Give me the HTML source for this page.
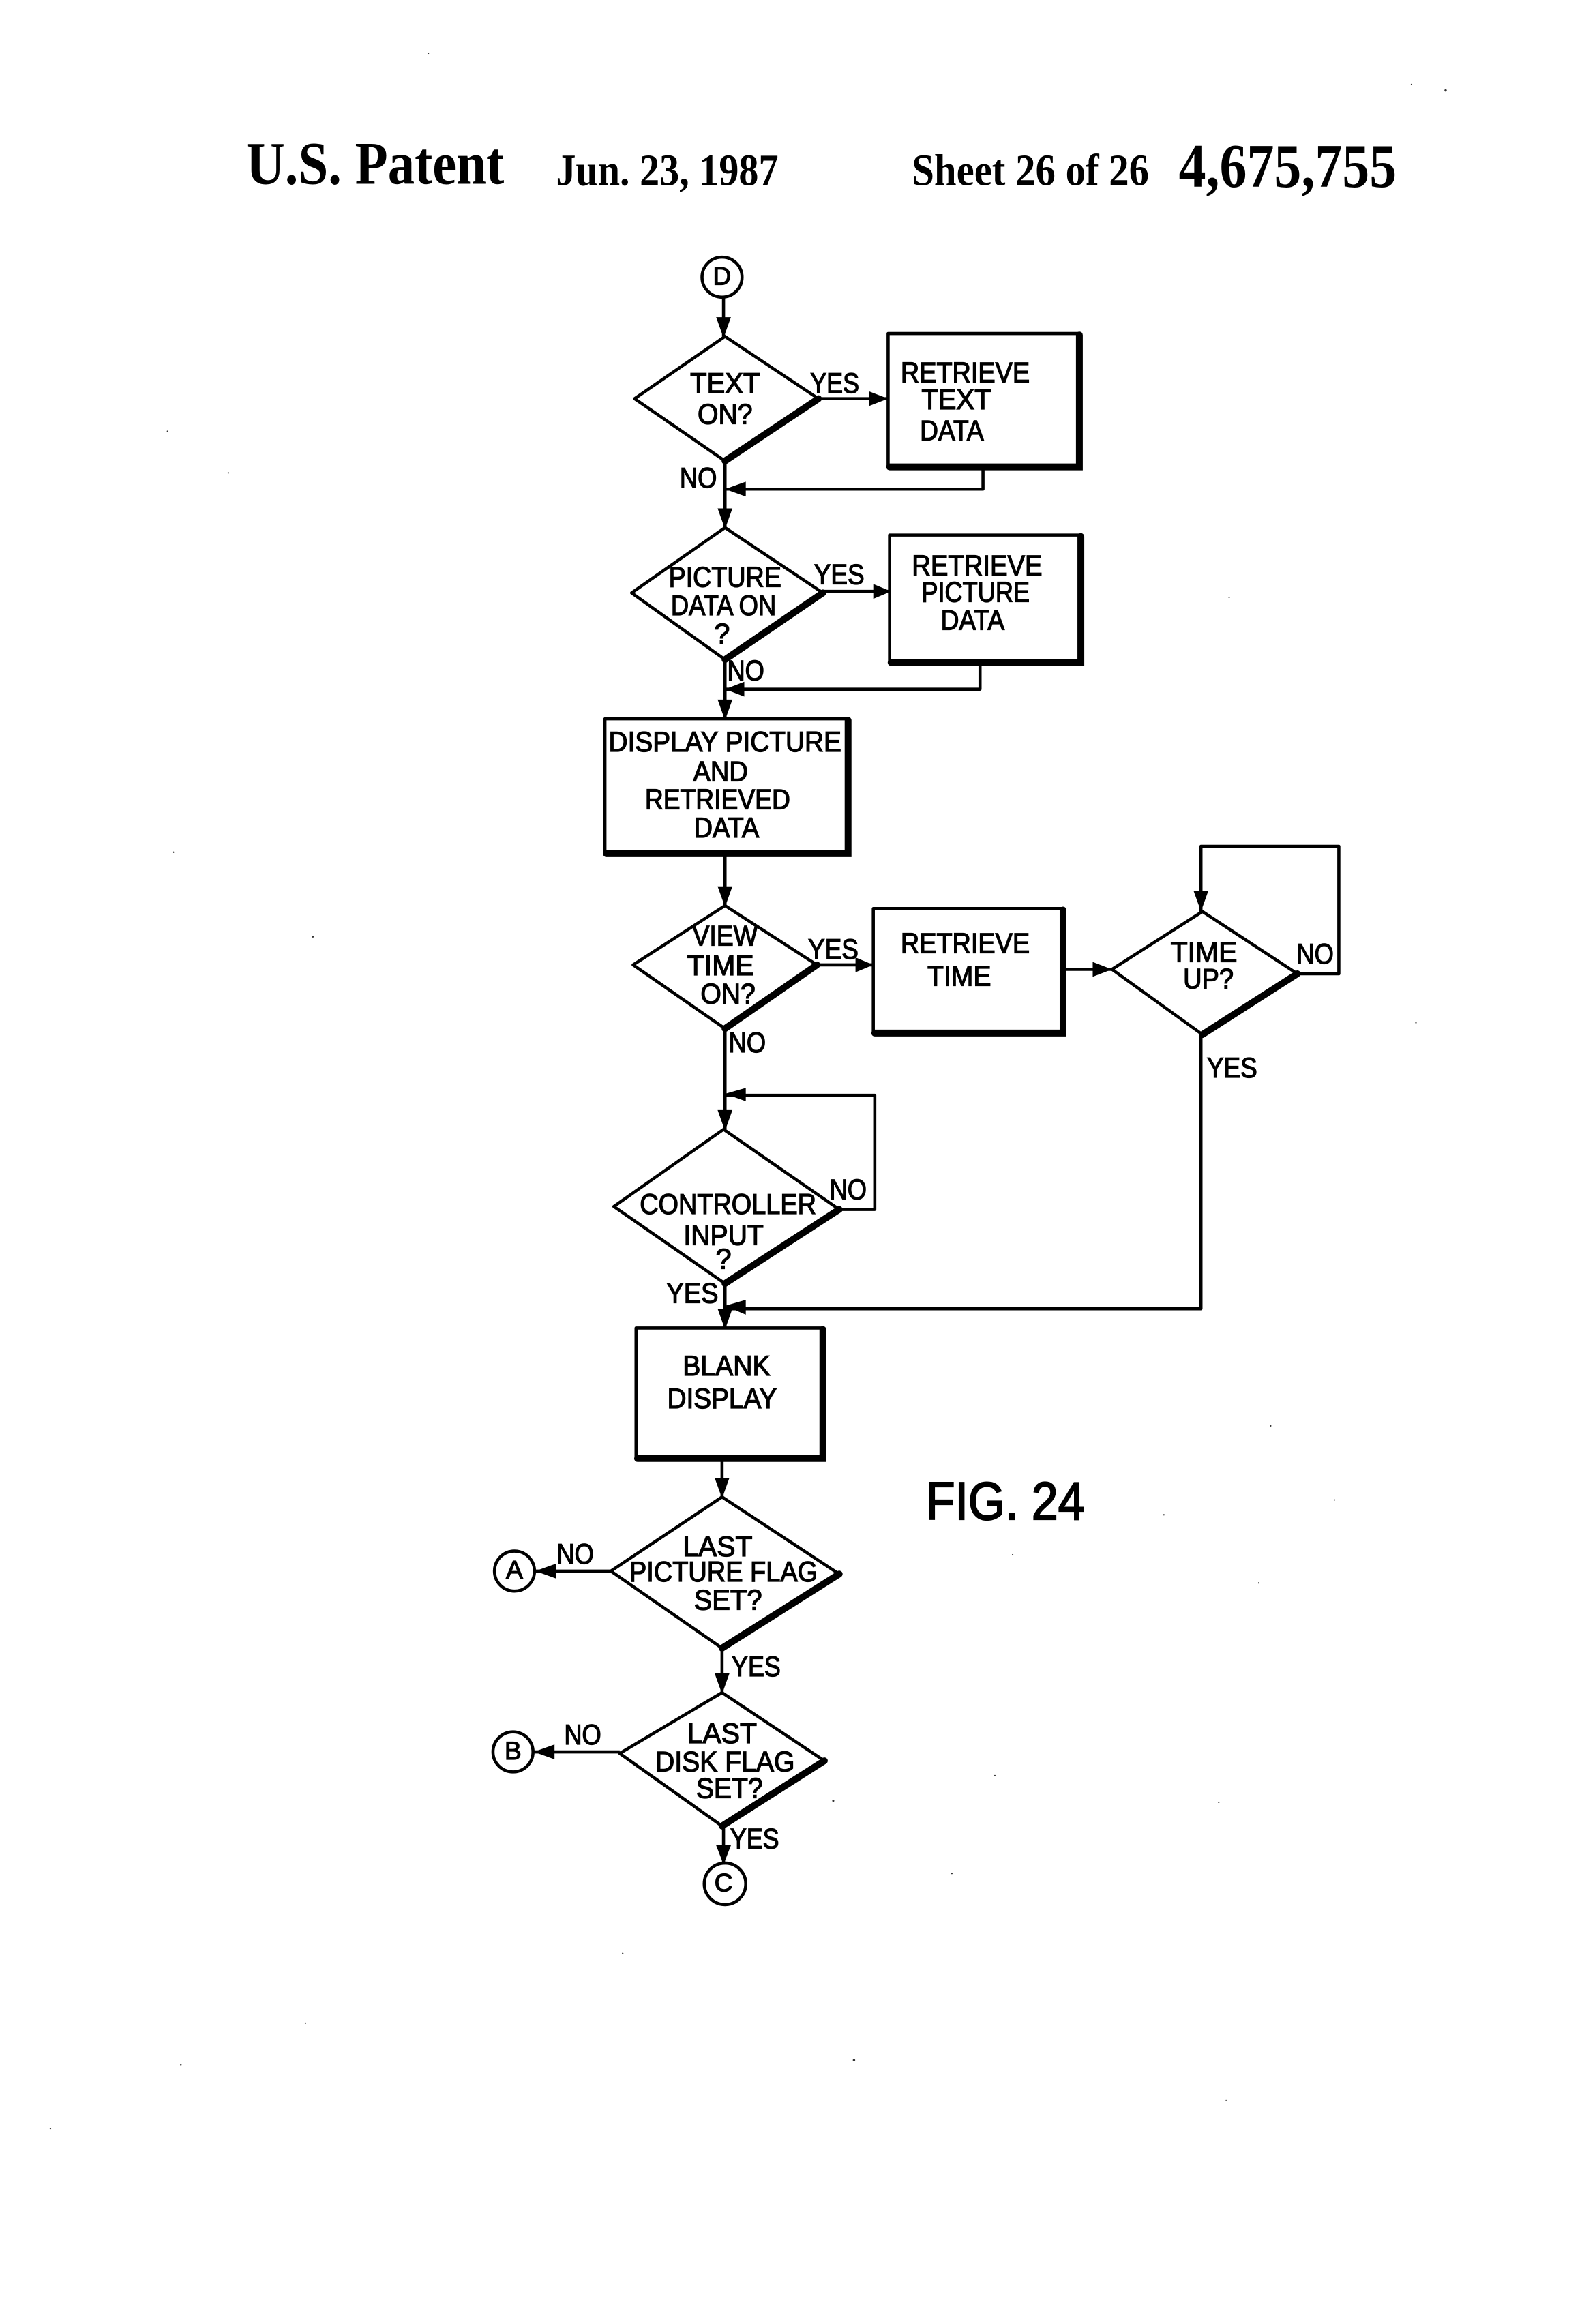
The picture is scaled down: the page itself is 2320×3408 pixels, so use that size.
<!DOCTYPE html>
<html>
<head>
<meta charset="utf-8">
<style>
html,body{margin:0;padding:0;background:#fff;width:2320px;height:3408px;overflow:hidden}
svg{display:block}
.l{fill:none;stroke:#000;stroke-width:2.1;stroke-linejoin:round}
.t{fill:none;stroke:#000;stroke-width:4.6;stroke-linecap:round}
.s{font-family:"Liberation Sans",sans-serif;font-size:19px;text-anchor:middle;fill:#000;stroke:#000;stroke-width:.6;transform:translateY(-1px)}
.h{font-family:"Liberation Serif",serif;font-weight:bold;fill:#000}
</style>
</head>
<body>
<svg xmlns="http://www.w3.org/2000/svg" width="2320" height="3408" viewBox="0 0 1067 1568" preserveAspectRatio="none">
<rect x="0" y="0" width="1067" height="1568" fill="#fff"/>

<!-- header -->
<text class="h" x="166" y="124" font-size="41" textLength="174" lengthAdjust="spacingAndGlyphs">U.S. Patent</text>
<text class="h" x="375" y="125" font-size="30" textLength="150" lengthAdjust="spacingAndGlyphs">Jun. 23, 1987</text>
<text class="h" x="615" y="125" font-size="30" textLength="160" lengthAdjust="spacingAndGlyphs">Sheet 26 of 26</text>
<text class="h" x="795" y="126" font-size="42" textLength="147" lengthAdjust="spacingAndGlyphs">4,675,755</text>

<!-- circle D -->
<circle class="l" cx="487" cy="187" r="13.5"/>
<text class="s" x="487" y="193" style="font-size:17px">D</text>
<path class="l" d="M488 201V227"/>
<polygon points="483,214 493,214 488,228"/>

<!-- diamond 1 -->
<path class="l" d="M552 269L489 227L428 269L489 311"/>
<path class="t" d="M489 311L552 269"/>
<text class="s" x="489" y="266" textLength="47" lengthAdjust="spacingAndGlyphs">TEXT</text>
<text class="s" x="489" y="287" textLength="37" lengthAdjust="spacingAndGlyphs">ON?</text>
<text class="s" x="563" y="266" textLength="33" lengthAdjust="spacingAndGlyphs">YES</text>
<path class="l" d="M552 269H599"/>
<polygon points="586,264 586,274 599,269"/>
<path class="l" d="M599 225H728V315H599Z"/>
<path class="t" d="M728 226V315H600"/>
<text class="s" x="651" y="259" textLength="87" lengthAdjust="spacingAndGlyphs">RETRIEVE</text>
<text class="s" x="645" y="277" textLength="47" lengthAdjust="spacingAndGlyphs">TEXT</text>
<text class="s" x="642" y="298" textLength="43" lengthAdjust="spacingAndGlyphs">DATA</text>
<text class="s" x="471" y="330" textLength="25" lengthAdjust="spacingAndGlyphs">NO</text>
<path class="l" d="M489 311V356"/>
<polygon points="484,343 494,343 489,357"/>
<path class="l" d="M663 315V330H489"/>
<polygon points="503,325 503,335 489,330"/>

<!-- diamond 2 -->
<path class="l" d="M555 400L489 356L426 400L489 445"/>
<path class="t" d="M489 445L555 400"/>
<text class="s" x="489" y="397" textLength="76" lengthAdjust="spacingAndGlyphs">PICTURE</text>
<text class="s" x="488" y="416" textLength="71" lengthAdjust="spacingAndGlyphs">DATA ON</text>
<text class="s" x="487" y="435">?</text>
<text class="s" x="566" y="395" textLength="34" lengthAdjust="spacingAndGlyphs">YES</text>
<path class="l" d="M555 399H600"/>
<polygon points="589,394 589,404 601,399"/>
<path class="l" d="M600 361H729V447H600Z"/>
<path class="t" d="M729 362V447H601"/>
<text class="s" x="659" y="389" textLength="88" lengthAdjust="spacingAndGlyphs">RETRIEVE</text>
<text class="s" x="658" y="407" textLength="73" lengthAdjust="spacingAndGlyphs">PICTURE</text>
<text class="s" x="656" y="426" textLength="43" lengthAdjust="spacingAndGlyphs">DATA</text>
<text class="s" x="503" y="460" textLength="25" lengthAdjust="spacingAndGlyphs">NO</text>
<path class="l" d="M489 445V485"/>
<polygon points="484,472 494,472 489,486"/>
<path class="l" d="M661 447V465H489"/>
<polygon points="502,460 502,470 489,465"/>

<!-- display rect -->
<path class="l" d="M408 485H572V576H408Z"/>
<path class="t" d="M572 486V576H409"/>
<text class="s" x="489" y="508" textLength="157" lengthAdjust="spacingAndGlyphs">DISPLAY PICTURE</text>
<text class="s" x="486" y="528" textLength="37" lengthAdjust="spacingAndGlyphs">AND</text>
<text class="s" x="484" y="547" textLength="98" lengthAdjust="spacingAndGlyphs">RETRIEVED</text>
<text class="s" x="490" y="566" textLength="44" lengthAdjust="spacingAndGlyphs">DATA</text>
<path class="l" d="M489 576V611"/>
<polygon points="484,598 494,598 489,612"/>

<!-- diamond 3 -->
<path class="l" d="M551 651L489 611L427 651L489 694"/>
<path class="t" d="M489 694L551 651"/>
<text class="s" x="489" y="639" textLength="44" lengthAdjust="spacingAndGlyphs">VIEW</text>
<text class="s" x="486" y="659" textLength="45" lengthAdjust="spacingAndGlyphs">TIME</text>
<text class="s" x="491" y="678" textLength="37" lengthAdjust="spacingAndGlyphs">ON?</text>
<text class="s" x="562" y="648" textLength="34" lengthAdjust="spacingAndGlyphs">YES</text>
<path class="l" d="M551 651H589"/>
<polygon points="577,646 577,656 589,651"/>
<path class="l" d="M589 613H717V697H589Z"/>
<path class="t" d="M717 614V697H590"/>
<text class="s" x="651" y="644" textLength="87" lengthAdjust="spacingAndGlyphs">RETRIEVE</text>
<text class="s" x="647" y="666" textLength="43" lengthAdjust="spacingAndGlyphs">TIME</text>
<path class="l" d="M717 654H750"/>
<polygon points="737,649 737,659 750,654"/>

<!-- diamond 4 -->
<path class="l" d="M875 657L811 615L750 654L811 698"/>
<path class="t" d="M811 698L875 657"/>
<text class="s" x="812" y="650" textLength="45" lengthAdjust="spacingAndGlyphs">TIME</text>
<text class="s" x="815" y="668" textLength="34" lengthAdjust="spacingAndGlyphs">UP?</text>
<text class="s" x="887" y="651" textLength="25" lengthAdjust="spacingAndGlyphs">NO</text>
<text class="s" x="831" y="728" textLength="34" lengthAdjust="spacingAndGlyphs">YES</text>
<path class="l" d="M875 657H903V571H810V615"/>
<polygon points="805,601 815,601 810,615"/>
<path class="l" d="M810 698V883H489"/>
<polygon points="503,877 503,887 489,881"/>

<text class="s" x="504" y="711" textLength="25" lengthAdjust="spacingAndGlyphs">NO</text>
<path class="l" d="M489 694V762"/>
<polygon points="484,749 494,749 489,763"/>
<path class="l" d="M566 816H590V739H489"/>
<polygon points="503,734 503,743 489,738"/>

<!-- diamond 5 -->
<path class="l" d="M566 816L488 762L414 814L489 866"/>
<path class="t" d="M489 866L566 816"/>
<text class="s" x="491" y="820" textLength="119" lengthAdjust="spacingAndGlyphs">CONTROLLER</text>
<text class="s" x="488" y="841" textLength="54" lengthAdjust="spacingAndGlyphs">INPUT</text>
<text class="s" x="488" y="857">?</text>
<text class="s" x="572" y="810" textLength="25" lengthAdjust="spacingAndGlyphs">NO</text>
<text class="s" x="467" y="880" textLength="35" lengthAdjust="spacingAndGlyphs">YES</text>
<path class="l" d="M489 866V896"/>
<polygon points="484,883 494,883 489,897"/>

<!-- blank rect -->
<path class="l" d="M429 896H555V984H429Z"/>
<path class="t" d="M555 897V984H430"/>
<text class="s" x="490" y="929" textLength="59" lengthAdjust="spacingAndGlyphs">BLANK</text>
<text class="s" x="487" y="951" textLength="74" lengthAdjust="spacingAndGlyphs">DISPLAY</text>
<path class="l" d="M487 984V1010"/>
<polygon points="482,997 492,997 487,1011"/>

<!-- diamond 6 -->
<path class="l" d="M566 1062L487 1010L412 1060L487 1112"/>
<path class="t" d="M487 1112L566 1062"/>
<text class="s" x="484" y="1051" textLength="47" lengthAdjust="spacingAndGlyphs">LAST</text>
<text class="s" x="488" y="1068" textLength="127" lengthAdjust="spacingAndGlyphs">PICTURE FLAG</text>
<text class="s" x="491" y="1087" textLength="46" lengthAdjust="spacingAndGlyphs">SET?</text>
<text class="s" x="388" y="1056" textLength="25" lengthAdjust="spacingAndGlyphs">NO</text>
<path class="l" d="M412 1060H361"/>
<polygon points="375,1055 375,1065 361,1060"/>
<circle class="l" cx="347" cy="1060" r="13.5"/>
<text class="s" x="347" y="1066" style="font-size:17px">A</text>
<text class="s" x="510" y="1132" textLength="33" lengthAdjust="spacingAndGlyphs">YES</text>
<path class="l" d="M487 1112V1142"/>
<polygon points="482,1129 492,1129 487,1143"/>

<!-- diamond 7 -->
<path class="l" d="M556 1188L487 1142L418 1183L487 1232"/>
<path class="t" d="M487 1232L556 1188"/>
<text class="s" x="487" y="1177" textLength="47" lengthAdjust="spacingAndGlyphs">LAST</text>
<text class="s" x="489" y="1196" textLength="94" lengthAdjust="spacingAndGlyphs">DISK FLAG</text>
<text class="s" x="492" y="1214" textLength="45" lengthAdjust="spacingAndGlyphs">SET?</text>
<text class="s" x="393" y="1178" textLength="25" lengthAdjust="spacingAndGlyphs">NO</text>
<path class="l" d="M418 1182H360"/>
<polygon points="374,1177 374,1187 360,1182"/>
<circle class="l" cx="346" cy="1182" r="13.5"/>
<text class="s" x="346" y="1188" style="font-size:17px">B</text>
<text class="s" x="509" y="1248" textLength="33" lengthAdjust="spacingAndGlyphs">YES</text>
<path class="l" d="M488 1232V1258"/>
<polygon points="483,1245 493,1245 488,1258"/>
<circle class="l" cx="489" cy="1271" r="14"/>
<text class="s" x="488" y="1277" style="font-size:17px">C</text>

<!-- figure label -->
<text x="678" y="1025" text-anchor="middle" font-family="Liberation Sans, sans-serif" font-size="36" fill="#000" stroke="#000" stroke-width="1" textLength="107" lengthAdjust="spacingAndGlyphs">FIG. 24</text>

<!-- specks -->
<g fill="#333">
<circle cx="975" cy="61" r=".8"/><circle cx="952" cy="57" r=".5"/><circle cx="289" cy="36" r=".4"/>
<circle cx="113" cy="291" r=".5"/><circle cx="154" cy="319" r=".5"/><circle cx="117" cy="575" r=".5"/>
<circle cx="211" cy="632" r=".6"/><circle cx="829" cy="403" r=".5"/><circle cx="955" cy="690" r=".5"/>
<circle cx="857" cy="962" r=".5"/><circle cx="785" cy="1022" r=".5"/><circle cx="683" cy="1049" r=".5"/>
<circle cx="849" cy="1068" r=".5"/><circle cx="671" cy="1198" r=".5"/><circle cx="822" cy="1216" r=".5"/>
<circle cx="562" cy="1215" r=".7"/><circle cx="576" cy="1390" r=".8"/><circle cx="827" cy="1417" r=".5"/>
<circle cx="420" cy="1318" r=".5"/><circle cx="206" cy="1365" r=".5"/><circle cx="122" cy="1393" r=".5"/>
<circle cx="34" cy="1436" r=".5"/><circle cx="642" cy="1264" r=".5"/><circle cx="900" cy="1012" r=".5"/>
</g>
</svg>
</body>
</html>
